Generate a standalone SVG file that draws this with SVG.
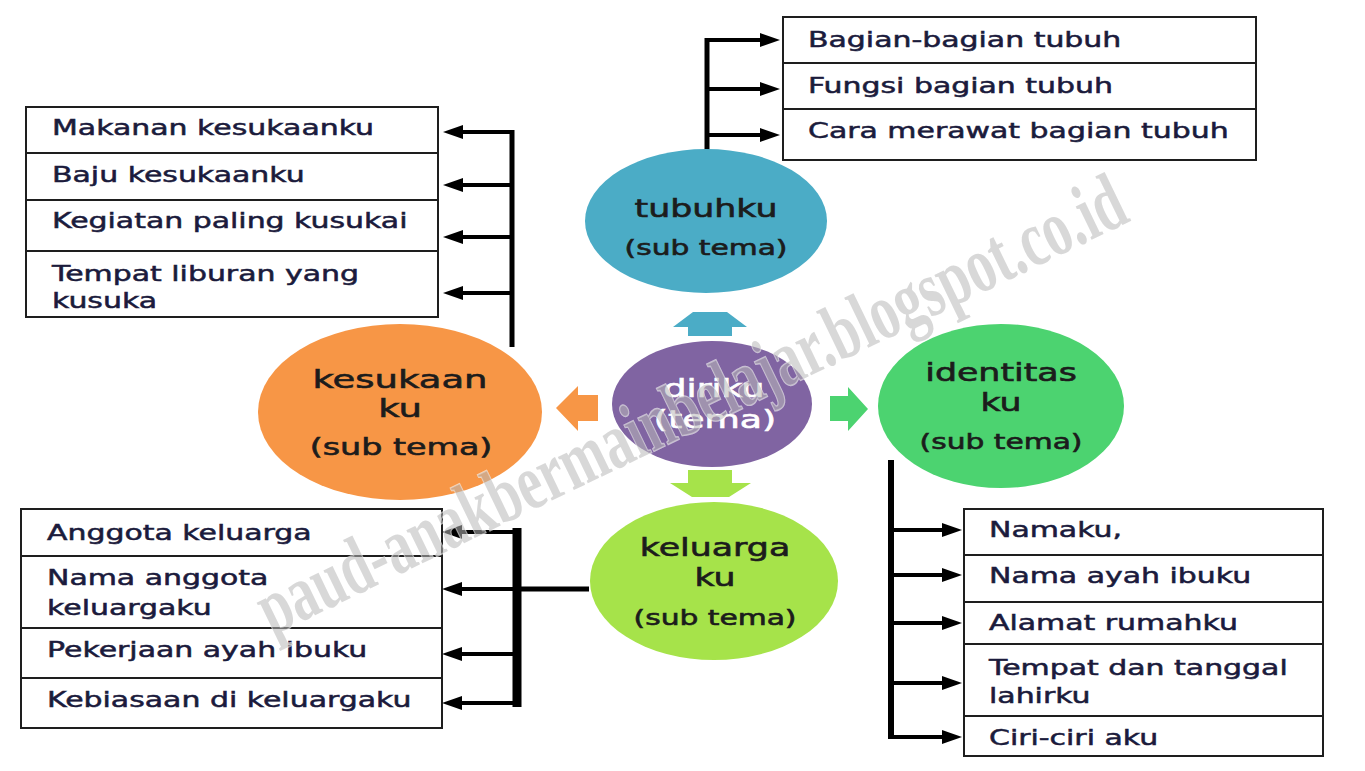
<svg xmlns="http://www.w3.org/2000/svg" width="1365" height="771" viewBox="0 0 1365 771">
<style>
.box{fill:#fff;stroke:#1e1e1e;stroke-width:2}
.sep{stroke:#1e1e1e;stroke-width:2}
.bt{font-family:"DejaVu Sans",Verdana,sans-serif;font-size:20.5px;fill:#1b1b3c;stroke:#1b1b3c;stroke-width:0.5}
.et{font-family:"DejaVu Sans",Verdana,sans-serif;fill:#1c1c1c;stroke:#1c1c1c;stroke-width:0.6;text-anchor:middle}
.wt{fill:#fff;stroke:#fff}
.bar{stroke:#000;fill:none}
.ln{stroke:#000;stroke-width:4;fill:none}
.wm{font-family:"Liberation Serif","Times New Roman",serif;font-weight:bold;font-size:80px;fill:#b8b8b8;fill-opacity:0.55;stroke:#fff;stroke-opacity:0.6;stroke-width:1.5;paint-order:stroke}
</style>
<defs>
<marker id="ah" markerUnits="userSpaceOnUse" markerWidth="21" markerHeight="15" refX="0" refY="7" orient="auto">
<path d="M0,0 L20,7 L0,14 Z" fill="#000"/>
</marker>
</defs>
<rect width="1365" height="771" fill="#fff"/>

<g id="connectors">
<path class="bar" stroke-width="5" d="M707,38 V150"/>
<path class="ln" d="M705,40 H760" marker-end="url(#ah)"/>
<path class="ln" d="M707,89 H760" marker-end="url(#ah)"/>
<path class="ln" d="M707,135 H760" marker-end="url(#ah)"/>
<path class="bar" stroke-width="5" d="M512,130 V347"/>
<path class="ln" d="M514,132 H463" marker-end="url(#ah)"/>
<path class="ln" d="M512,185 H463" marker-end="url(#ah)"/>
<path class="ln" d="M512,237 H463" marker-end="url(#ah)"/>
<path class="ln" d="M512,293 H463" marker-end="url(#ah)"/>
<path class="bar" stroke-width="9" d="M517,528 V707"/>
<path class="ln" d="M521,532 H462" marker-end="url(#ah)"/>
<path class="ln" d="M517,589 H462" marker-end="url(#ah)"/>
<path class="ln" d="M517,654 H462" marker-end="url(#ah)"/>
<path class="ln" d="M521,703 H462" marker-end="url(#ah)"/>
<path class="bar" stroke-width="5" d="M517,589 H589"/>
<path class="bar" stroke-width="6" d="M891,460 V739"/>
<path class="ln" d="M891,530 H942" marker-end="url(#ah)"/>
<path class="ln" d="M891,575 H942" marker-end="url(#ah)"/>
<path class="ln" d="M891,623 H942" marker-end="url(#ah)"/>
<path class="ln" d="M891,683 H942" marker-end="url(#ah)"/>
<path class="ln" d="M888,737 H942" marker-end="url(#ah)"/>
<polygon fill="#4bacc6" points="693,312 727,312 747,327 732,327 732,336 688,336 688,327 673,327"/>
<polygon fill="#f79646" points="556,408 578,386 578,395 598,395 598,421 578,421 578,431"/>
<polygon fill="#4cd370" points="868,409 848,387 848,396 830,396 830,421 848,421 848,431"/>
<polygon fill="#a6e34a" points="688,470 732,470 732,483 751,483 729,497 692,497 670,483 688,483"/>
</g>

<g id="box-tubuhku">
<rect class="box" x="783" y="17" width="473" height="143"/>
<path class="sep" d="M783,63 H1256 M783,109 H1256"/>
<text class="bt" transform="matrix(1.46 0 0 1 808 47)">Bagian-bagian tubuh</text>
<text class="bt" transform="matrix(1.46 0 0 1 808 93)">Fungsi bagian tubuh</text>
<text class="bt" transform="matrix(1.46 0 0 1 808 138)">Cara merawat bagian tubuh</text>
</g>

<g id="box-kesukaan">
<rect class="box" x="26" y="107" width="412" height="210"/>
<path class="sep" d="M26,153 H438 M26,200 H438 M26,251 H438"/>
<text class="bt" transform="matrix(1.46 0 0 1 52 135)">Makanan kesukaanku</text>
<text class="bt" transform="matrix(1.46 0 0 1 52 182)">Baju kesukaanku</text>
<text class="bt" transform="matrix(1.46 0 0 1 52 228)">Kegiatan paling kusukai</text>
<text class="bt" transform="matrix(1.46 0 0 1 52 281)">Tempat liburan yang</text>
<text class="bt" transform="matrix(1.46 0 0 1 52 308)">kusuka</text>
</g>

<g id="box-keluarga">
<rect class="box" x="21" y="509" width="421" height="219"/>
<path class="sep" d="M21,556 H442 M21,628 H442 M21,678 H442"/>
<text class="bt" transform="matrix(1.46 0 0 1 47 540)">Anggota keluarga</text>
<text class="bt" transform="matrix(1.46 0 0 1 47 585)">Nama anggota</text>
<text class="bt" transform="matrix(1.46 0 0 1 47 615)">keluargaku</text>
<text class="bt" transform="matrix(1.46 0 0 1 47 657)">Pekerjaan ayah ibuku</text>
<text class="bt" transform="matrix(1.46 0 0 1 47 707)">Kebiasaan di keluargaku</text>
</g>

<g id="box-identitas">
<rect class="box" x="964" y="509" width="359" height="247"/>
<path class="sep" d="M964,555 H1323 M964,602 H1323 M964,644 H1323 M964,716 H1323"/>
<text class="bt" transform="matrix(1.46 0 0 1 989 537)">Namaku,</text>
<text class="bt" transform="matrix(1.46 0 0 1 989 583)">Nama ayah ibuku</text>
<text class="bt" transform="matrix(1.46 0 0 1 989 630)">Alamat rumahku</text>
<text class="bt" transform="matrix(1.46 0 0 1 989 675)">Tempat dan tanggal</text>
<text class="bt" transform="matrix(1.46 0 0 1 989 703)">lahirku</text>
<text class="bt" transform="matrix(1.46 0 0 1 989 745)">Ciri-ciri aku</text>
</g>

<g id="node-tubuhku">
<ellipse cx="706" cy="221" rx="121" ry="72" fill="#4bacc6"/>
<text class="et" font-size="24" transform="matrix(1.45 0 0 1 706 217)">tubuhku</text>
<text class="et" font-size="20.5" transform="matrix(1.45 0 0 1 706 255)">(sub tema)</text>
</g>

<g id="node-diriku">
<ellipse cx="712" cy="404" rx="100" ry="63" fill="#8064a2"/>
<text class="et wt" font-size="25" transform="matrix(1.45 0 0 1 714 397)">diriku</text>
<text class="et wt" font-size="25" transform="matrix(1.45 0 0 1 715 428)">(tema)</text>
</g>

<g id="node-kesukaan">
<ellipse cx="400" cy="412" rx="142" ry="88" fill="#f79646"/>
<text class="et" font-size="25.5" transform="matrix(1.45 0 0 1 400 388)">kesukaan</text>
<text class="et" font-size="25.5" transform="matrix(1.45 0 0 1 400 417)">ku</text>
<text class="et" font-size="23" transform="matrix(1.45 0 0 1 401 455)">(sub tema)</text>
</g>

<g id="node-identitas">
<ellipse cx="1001" cy="406" rx="123" ry="82" fill="#4cd370"/>
<text class="et" font-size="24" transform="matrix(1.45 0 0 1 1001 381)">identitas</text>
<text class="et" font-size="24" transform="matrix(1.45 0 0 1 1001 411)">ku</text>
<text class="et" font-size="20.5" transform="matrix(1.45 0 0 1 1001 449)">(sub tema)</text>
</g>

<g id="node-keluarga">
<ellipse cx="714" cy="581" rx="124" ry="79" fill="#a6e34a"/>
<text class="et" font-size="24" transform="matrix(1.45 0 0 1 715 556)">keluarga</text>
<text class="et" font-size="24" transform="matrix(1.45 0 0 1 715 586)">ku</text>
<text class="et" font-size="20.5" transform="matrix(1.45 0 0 1 715 625)">(sub tema)</text>
</g>

<g id="watermark">
<text class="wm" transform="translate(272 636) rotate(-25.8)" textLength="955" lengthAdjust="spacingAndGlyphs">paud-anakbermainbelajar.blogspot.co.id</text>
</g>
</svg>
